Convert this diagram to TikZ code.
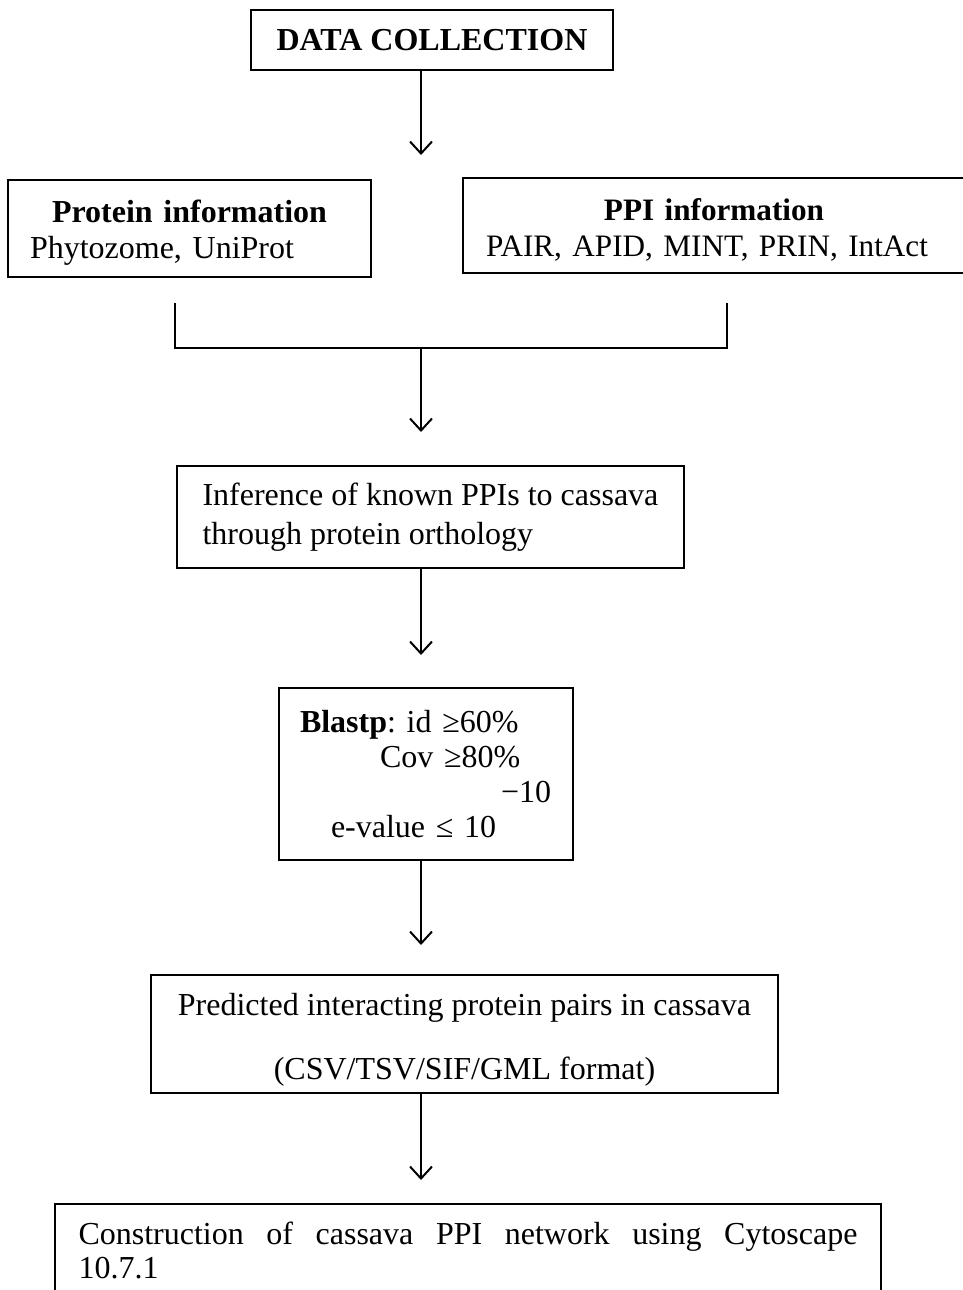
\documentclass[tikz,border=0pt]{standalone}
\usepackage{fontspec}
\setmainfont{Liberation Serif}
\usetikzlibrary{arrows.meta}

\begin{document}
\frenchspacing
\begin{tikzpicture}[x=0.5pt, y=-0.5pt, >={Straight Barb[length=6pt,width=11pt]}, line width=1pt,
  font=\fontsize{16}{19.5}\selectfont,
  box/.style={draw, line width=1.1pt, inner ysep=0pt, align=left}]
  \useasboundingbox (0,0) rectangle (963,1290);

  % Datenquellen
  \node[box, minimum width=181pt, minimum height=30pt, align=center] (data) at (432,40) {\textbf{DATA COLLECTION}};
  \node[box, text width=159.5pt, inner xsep=11pt, minimum height=48.5pt, font=\fontsize{16}{18}\selectfont] (prot) at (189.5,228.5)
    {\makebox[\linewidth]{\rule{0pt}{15pt}\textbf{Protein information}}\\Phytozome, UniProt};
  \node[box, text width=228pt, inner xsep=11.5pt, minimum height=47.5pt, font=\fontsize{15.6}{18}\selectfont] (ppi) at (714,225.5)
    {\makebox[\linewidth]{\rule{0pt}{15pt}\textbf{PPI information}}\\PAIR, APID, MINT, PRIN, IntAct};

  \coordinate (t1) at (421,155);
  \draw[->] (data.south -| t1) -- (t1);

  % Klammer
  \coordinate (bl) at (175,303);
  \coordinate (br) at (727,303);
  \coordinate (mid) at (421,348);
  \coordinate (t2) at (421,432);
  \draw (bl) -- (bl |- mid) -- (br |- mid) -- (br);
  \draw[->] (mid) -- (t2);

  % Ablauf
  \node[box, minimum width=253.5pt, minimum height=51pt] (infer) at (430.5,517)
    {Inference of known PPIs to cassava\\through protein orthology};
  \coordinate (t3) at (421,655);
  \draw[->] (infer.south -| t3) -- (t3);

  \node[box, text width=126pt, inner xsep=10.5pt, minimum height=86pt, font=\fontsize{16}{17.5}\selectfont] (blast) at (426,774)
    {\textbf{Blastp}: id ≥60\%\\
     \hspace*{40pt}Cov ≥80\%\\
     \hspace*{100.5pt}−10\\
     \hspace*{15.5pt}e-value ≤ 10};
  \coordinate (t4) at (421,945);
  \draw[->] (blast.south -| t4) -- (t4);

  \node[box, minimum width=313.5pt, minimum height=59pt, align=center] (pred) at (464.5,1034)
    {\rule{0pt}{17pt}Predicted interacting protein pairs in cassava\\[12.5pt](CSV/TSV/SIF/GML format)};
  \coordinate (t5) at (421,1180);
  \draw[->] (pred.south -| t5) -- (t5);

  \node[box, anchor=north, text width=389.5pt, inner xsep=11.75pt, inner ysep=9pt, align=justify, font=\fontsize{16}{17}\selectfont] (net) at (468,1203)
    {Construction of cassava PPI network using Cytoscape\linebreak 10.7.1};
\end{tikzpicture}
\end{document}
